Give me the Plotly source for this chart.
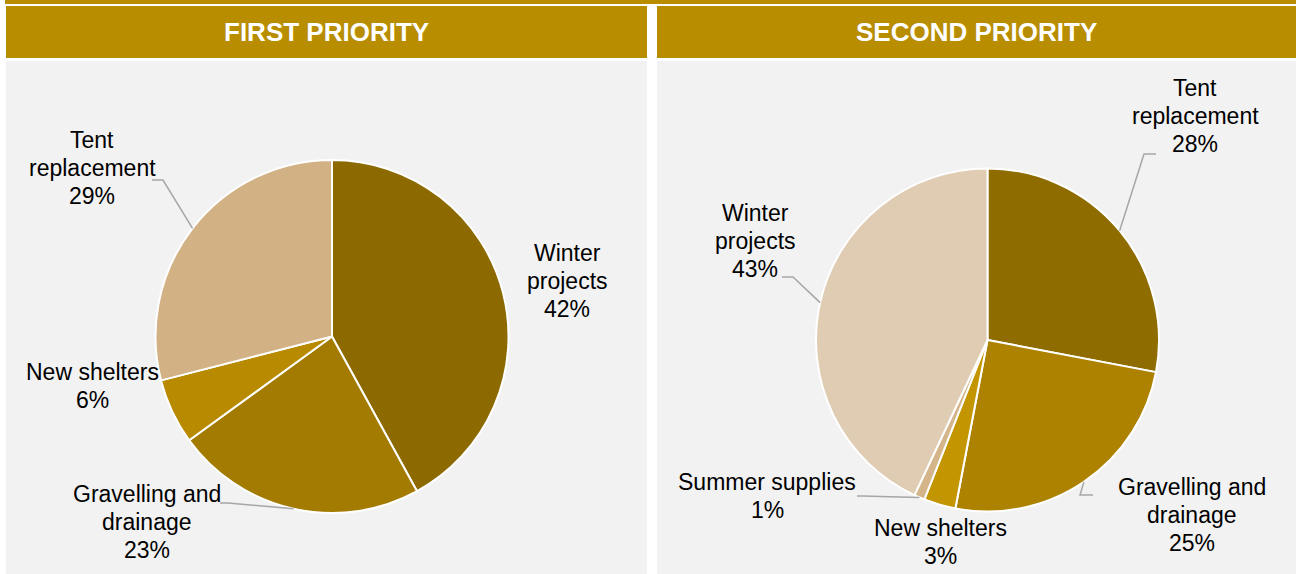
"""Shelter priorities — two pies side by side, Plotly HTML"""
import math
import plotly.graph_objects as go

W, H = 1296, 574

GOLD = "#B98D00"
PANEL = "#F2F2F2"
LEADER = "#A6A6A6"
FONT = "Liberation Sans, Arial, sans-serif"
LINE_H = 28  # label line pitch, px

# data
first_labels = ["Winter projects", "Gravelling and drainage", "New shelters", "Tent replacement"]
first_values = [42, 23, 6, 29]
first_colors = ["#8C6A00", "#A27B00", "#B88A00", "#D2B184"]

second_labels = ["Tent replacement", "Gravelling and drainage", "New shelters",
                 "Summer supplies", "Winter projects"]
second_values = [28, 25, 3, 1, 43]
second_colors = ["#8F6C00", "#AD8200", "#C39500", "#D4B58A", "#E0CCB3"]

panel_titles = ["FIRST PRIORITY", "SECOND PRIORITY"]

# how each label is broken over lines
wrapped = {
    "Winter projects": ["Winter", "projects"],
    "Gravelling and drainage": ["Gravelling and", "drainage"],
    "New shelters": ["New shelters"],
    "Tent replacement": ["Tent", "replacement"],
    "Summer supplies": ["Summer supplies"],
}


def px(x):
    return x / W


def py(y):
    return 1 - y / H


# pie geometry in pixels: centre x, centre y, radius
pies = [
    dict(cx=332, cy=336.5, r=176.5),
    dict(cx=987.5, cy=340, r=171.5),
]

# label block centres and leader elbows (pixels); None = no leader
label_pos = [
    {
        "Winter projects": ((567, 281), None),
        "Gravelling and drainage": ((147, 522), [(228, 503), (220, 503)]),
        "New shelters": ((92, 386), None),
        "Tent replacement": ((92, 168), [(163, 180), (152, 180)]),
    },
    {
        "Tent replacement": ((1195, 116), [(1144, 154), (1156, 154)]),
        "Gravelling and drainage": ((1192, 515), [(1080, 495), (1093, 495)]),
        "New shelters": ((940, 542), None),
        "Summer supplies": ((767, 496), [(862, 496), (857, 496)]),
        "Winter projects": ((755, 241), [(793, 277), (782, 277)]),
    },
]

panels = [(6, 647), (657, 1296)]

fig = go.Figure()
shapes = []
annotations = []

# top rule
shapes.append(dict(type="rect", xref="paper", yref="paper", layer="below",
                   x0=px(5), x1=px(W), y0=py(4), y1=py(0),
                   fillcolor=GOLD, line=dict(width=0)))

for (x0, x1), title in zip(panels, panel_titles):
    shapes.append(dict(type="rect", xref="paper", yref="paper", layer="below",
                       x0=px(x0), x1=px(x1), y0=py(58), y1=py(6),
                       fillcolor=GOLD, line=dict(width=0)))
    shapes.append(dict(type="rect", xref="paper", yref="paper", layer="below",
                       x0=px(x0), x1=px(x1), y0=py(H), y1=py(61),
                       fillcolor=PANEL, line=dict(width=0)))
    annotations.append(dict(xref="paper", yref="paper", x=px((x0 + x1) / 2), y=py(32),
                            text=f"<b>{title}</b>", showarrow=False,
                            xanchor="center", yanchor="middle",
                            font=dict(family=FONT, size=26, color="white")))

series = [
    (first_labels, first_values, first_colors),
    (second_labels, second_values, second_colors),
]

for (labels, values, colors), geo, pos in zip(series, pies, label_pos):
    cx, cy, r = geo["cx"], geo["cy"], geo["r"]
    fig.add_trace(go.Pie(
        labels=labels, values=values, sort=False, direction="clockwise", rotation=0,
        marker=dict(colors=colors, line=dict(color="white", width=2)),
        textinfo="none", showlegend=False,
        domain=dict(x=[px(cx - r), px(cx + r)], y=[py(cy + r), py(cy - r)]),
    ))

    total = sum(values)
    cum = 0
    for lab, val in zip(labels, values):
        mid = (cum + val / 2) / total
        cum += val
        theta = 2 * math.pi * mid
        ax = cx + r * math.sin(theta)
        ay = cy - r * math.cos(theta)

        (tx, ty), leader = pos[lab]
        lines = wrapped[lab] + [f"{round(val / total * 100)}%"]
        for i, line in enumerate(lines):
            ly = ty + (i - (len(lines) - 1) / 2) * LINE_H
            annotations.append(dict(xref="paper", yref="paper", x=px(tx), y=py(ly),
                                    text=line, showarrow=False,
                                    xanchor="center", yanchor="middle",
                                    font=dict(family=FONT, size=23, color="black")))
        if leader:
            pts = [(ax, ay)] + leader
            path = "M " + " L ".join(f"{px(x):.5f},{py(y):.5f}" for x, y in pts)
            shapes.append(dict(type="path", xref="paper", yref="paper", path=path,
                               line=dict(color=LEADER, width=1.5)))

fig.update_layout(
    width=W, height=H,
    margin=dict(l=0, r=0, t=0, b=0),
    paper_bgcolor="white", plot_bgcolor="white",
    shapes=shapes, annotations=annotations,
    font=dict(family=FONT),
)

# the page body has a default 8px margin; drop it so the figure sits at 0,0
fig.write_html("out.html", config={"displayModeBar": False},
               post_script="document.body.style.margin = '0';")
